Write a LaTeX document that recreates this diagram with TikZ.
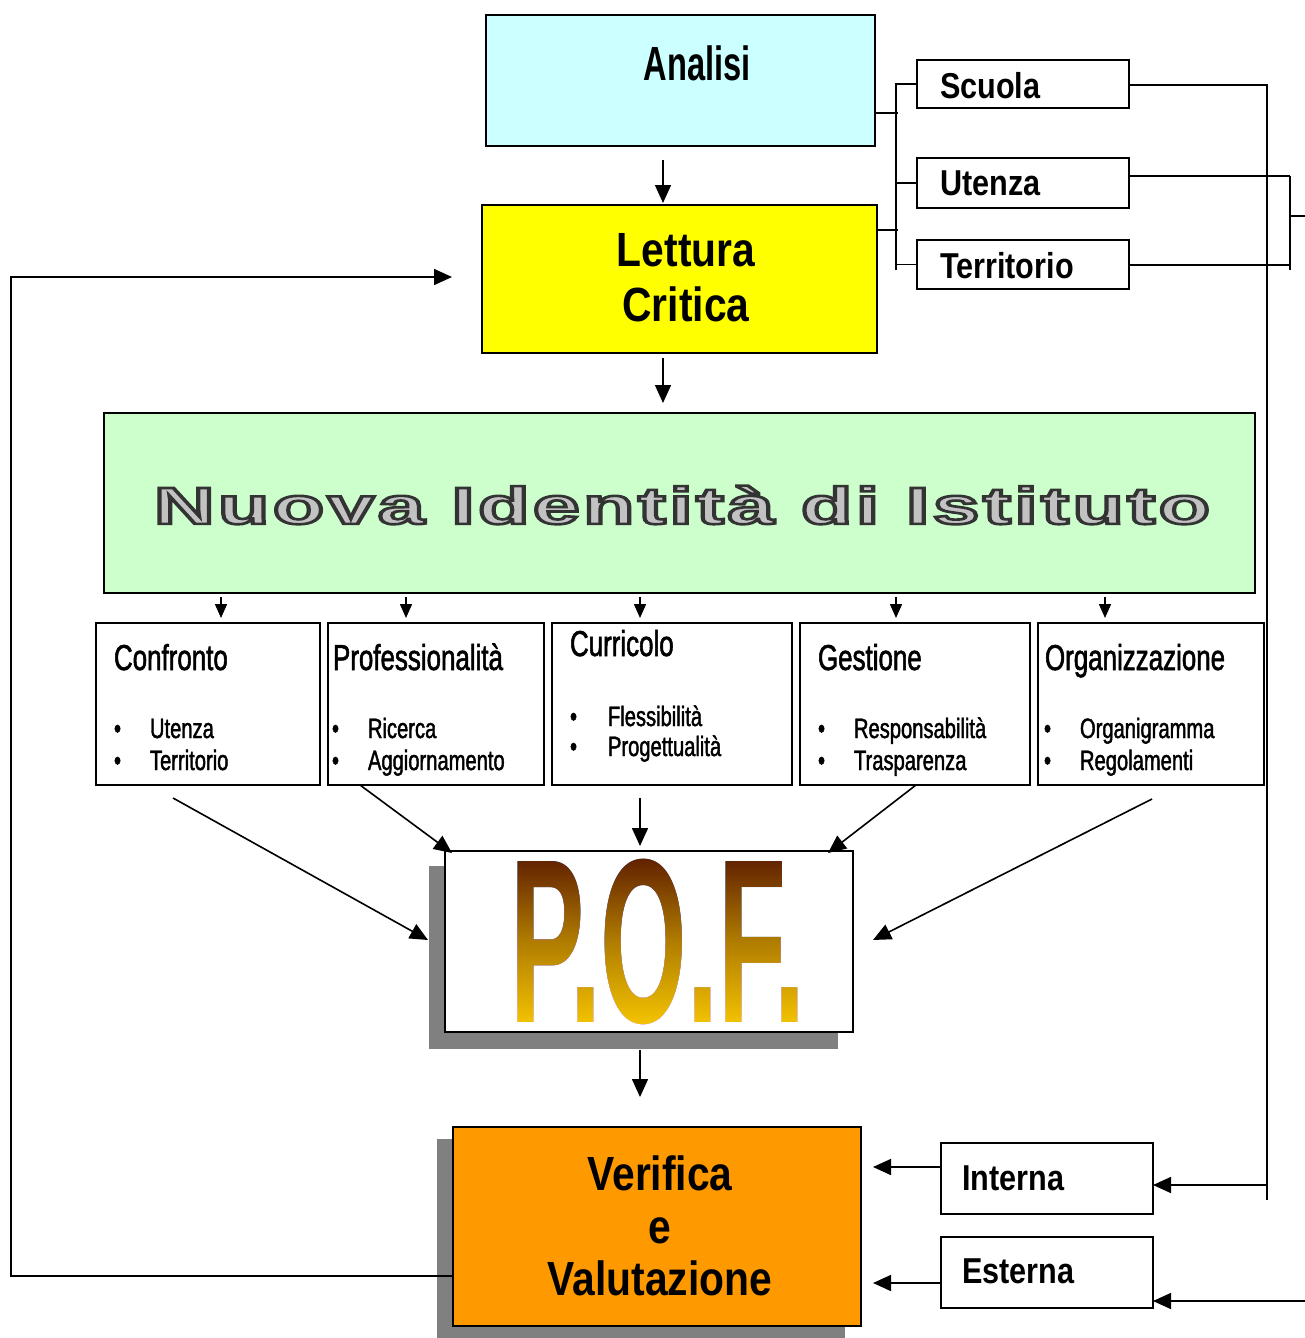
\documentclass[tikz,border=0pt]{standalone}
\usepackage{fontspec}
\setmainfont{Liberation Sans}[FakeStretch=0.85]
\newfontfamily\nar{Liberation Sans}[FakeStretch=0.72, FakeBold=1.5]
\newfontfamily\wf{Liberation Sans}[LetterSpace=4, FakeBold=5]
\usetikzlibrary{arrows.meta,calc}
\definecolor{cyanbox}{HTML}{CCFFFF}
\definecolor{yelbox}{HTML}{FFFF00}
\definecolor{grnbox}{HTML}{CCFFCC}
\definecolor{orgbox}{HTML}{FF9900}
\definecolor{shd}{HTML}{808080}
\definecolor{pofdark}{HTML}{5C1A00}
\definecolor{pofmid}{HTML}{B07C00}
\definecolor{pofgold}{HTML}{F8C800}
\definecolor{nuovagray}{HTML}{BDBDBD}
\tikzset{
  bx/.style={draw=black, line width=1.4pt},
  sbx/.style={draw=black, line width=1pt, fill=white},
  ln/.style={line width=0.8pt},
  arr/.style={ln, -{Triangle[length=9pt,width=8pt]}},
  sarr/.style={ln, -{Triangle[length=7pt,width=6pt]}},
  ttl/.style={anchor=base west, font=\nar\fontsize{18}{18}\selectfont},
  lst/.style={anchor=base west, font=\nar\fontsize{14}{16}\selectfont, align=left},
  lab/.style={anchor=base west, font=\bfseries\fontsize{18}{18}\selectfont},
}
\newcommand{\nuovatext}{\resizebox{528pt}{\height}{\wf\bfseries\fontsize{26}{26}\selectfont Nuova Identità di Istituto}}
\begin{document}
\begin{tikzpicture}[x=0.5pt,y=-0.5pt, every node/.append style={inner sep=0pt, outer sep=0pt}]
\useasboundingbox (0,0) rectangle (1305,1338);

% shadows
\fill[shd] (429,866) rectangle (838,1049);
\fill[shd] (437,1139) rectangle (845,1338);

% main boxes
\node[bx, fill=cyanbox, minimum width=194.5pt, minimum height=65.5pt] (analisi) at (680.5,80.5) {};
\node[bx, fill=yelbox, minimum width=197.5pt, minimum height=74pt] (lettura) at (679.5,279) {};
\node[bx, fill=grnbox, minimum width=575.5pt, minimum height=90pt] (nuova) at (679.5,503) {};
\node[bx, fill=white, minimum width=112pt, minimum height=81pt] (b1) at (208,704) {};
\node[bx, fill=white, minimum width=108pt, minimum height=81pt] (b2) at (436,704) {};
\node[bx, fill=white, minimum width=120pt, minimum height=81pt] (b3) at (672,704) {};
\node[bx, fill=white, minimum width=115pt, minimum height=81pt] (b4) at (915,704) {};
\node[bx, fill=white, minimum width=113pt, minimum height=81pt] (b5) at (1151,704) {};
\node[draw=black, line width=1pt, fill=white, minimum width=204pt, minimum height=90.5pt] (pof) at (649,941.5) {};
\node[bx, fill=orgbox, minimum width=204pt, minimum height=99.5pt] (ver) at (657,1226.5) {};
\node[sbx, minimum width=106pt, minimum height=24pt] (scuola) at (1023,84) {};
\node[sbx, minimum width=106pt, minimum height=25pt] (utenza) at (1023,183) {};
\node[sbx, minimum width=106pt, minimum height=24.5pt] (terr) at (1023,264.5) {};
\node[sbx, minimum width=106pt, minimum height=35.5pt] (interna) at (1047,1178.5) {};
\node[sbx, minimum width=106pt, minimum height=35.5pt] (esterna) at (1047,1272.5) {};

% texts
\node (tanalisi) at (697,63) {\bfseries\fontsize{24}{24}\selectfont\scalebox{0.8}[1]{Analisi}};
\node[align=center, font=\bfseries\fontsize{24}{27.5}\selectfont] (tlettura) at (686,278) {Lettura\\Critica};
\node[align=center, font=\bfseries\fontsize{24}{26.25}\selectfont] (tver) at (660,1226) {Verifica\\e\\Valutazione};
\node[text=nuovagray] (tnuova) at (682,505) {\special{pdf:bcolor [0.76] [0.2]}\nuovatext\special{pdf:ecolor}};
\node (tpof) at (657.5,942) {\resizebox{147.5pt}{\height}{\bfseries\fontsize{117}{117}\selectfont P.O.F.}};
\fill[blend mode=lighten, top color=pofdark, bottom color=pofgold, middle color=pofmid] (500,852) rectangle (815,1030);

\node[lab] (tscuola) at (940,99) {Scuola};
\node[lab] (tutenza) at (940,195) {Utenza};
\node[lab] (tterr) at (940,278) {Territorio};
\node[lab] (tinterna) at (962,1190) {Interna};
\node[lab] (testerna) at (962,1283) {Esterna};

\node[ttl] (t1) at (114,670) {Confronto};
\node[ttl] (t2) at (333,670) {Professionalità};
\node[ttl] (t3) at (570,656) {Curricolo};
\node[ttl] (t4) at (818,670) {Gestione};
\node[ttl] (t5) at (1045,670) {Organizzazione};
\node[lst] (l1) at (114,738) {\begin{tabular}[t]{@{}p{18pt}@{}l@{}}•&Utenza\\•&Territorio\end{tabular}};
\node[lst] (l2) at (332,738) {\begin{tabular}[t]{@{}p{18pt}@{}l@{}}•&Ricerca\\•&Aggiornamento\end{tabular}};
\node[lst, font=\nar\fontsize{14}{15}\selectfont] (l3) at (570,726) {\begin{tabular}[t]{@{}p{19pt}@{}l@{}}•&Flessibilità\\•&Progettualità\end{tabular}};
\node[lst] (l4) at (818,738) {\begin{tabular}[t]{@{}p{18pt}@{}l@{}}•&Responsabilità\\•&Trasparenza\end{tabular}};
\node[lst] (l5) at (1044,738) {\begin{tabular}[t]{@{}p{18pt}@{}l@{}}•&Organigramma\\•&Regolamenti\end{tabular}};

% coordinates for connectors
\coordinate (c1a) at (663,160); \coordinate (c1b) at (663,203);
\coordinate (c2a) at (663,358); \coordinate (c2b) at (663,403);
\foreach \x/\n in {221/1,406/2,640/3,896/4,1105/5}{
  \coordinate (n\n a) at (\x,597); \coordinate (n\n b) at (\x,618);
}
\coordinate (p1a) at (173,798); \coordinate (p1b) at (428,940);
\coordinate (p2a) at (360,785); \coordinate (p2b) at (452,853);
\coordinate (p3a) at (640,798); \coordinate (p3b) at (640,846);
\coordinate (p4a) at (916,785); \coordinate (p4b) at (828,853);
\coordinate (p5a) at (1152,799); \coordinate (p5b) at (873,940);
\coordinate (v1a) at (640,1050); \coordinate (v1b) at (640,1097);
\coordinate (ia) at ($(interna.west)+(0,-11.5)$); \coordinate (ib) at (873,1167);
\coordinate (ea) at ($(esterna.west)+(0,10.5)$); \coordinate (eb) at (873,1283);
\coordinate (rtop) at (1267,85); \coordinate (rbot) at (1267,1200);
\coordinate (rint) at (1268,1185);
\coordinate (uright) at (1290,176); \coordinate (tright) at (1290,265);
\coordinate (ubar) at (1290,270); \coordinate (umid) at (1290,216);
\coordinate (redge) at (1305,216);
\coordinate (eedge) at (1305,1301);
\coordinate (lbtop) at (896,83); \coordinate (lbbot) at (896,270);
\coordinate (loopA) at (11,1276); \coordinate (loopB) at (11,277);
\coordinate (loopC) at (452,277);

% connectors
\draw[arr] (c1a) -- (c1b);
\draw[arr] (c2a) -- (c2b);
\foreach \n in {1,...,5}{ \draw[sarr] (n\n a) -- (n\n b); }
\foreach \n in {1,...,5}{ \draw[arr] (p\n a) -- (p\n b); }
\draw[arr] (v1a) -- (v1b);
\draw[arr] (ia) -- (ib);
\draw[arr] (ea) -- (eb);

% right side lines
\draw[ln] (scuola.east |- rtop) -- (rtop) -- (rbot);
\draw[arr] (rint) -- (interna.east |- rint);
\draw[ln] (utenza.east |- uright) -- (uright);
\draw[ln] (terr.east |- tright) -- (tright);
\draw[ln] (uright) -- (ubar);
\draw[ln] (umid) -- (redge);
\draw[arr] (eedge) -- (esterna.east |- eedge);

% left bracket
\draw[ln] (lbtop) -- (lbbot);
\draw[ln] (lbtop |- scuola.west) -- (scuola.west);
\draw[ln] (lbtop |- utenza.west) -- (utenza.west);
\draw[ln] (lbtop |- terr.west) -- (terr.west);
\draw[ln] (analisi.east |- 0,113) -- (898,113);
\draw[ln] (lettura.east |- 0,230) -- (898,230);

% feedback loop
\draw[arr] (ver.west |- loopA) -- (loopA) -- (loopB) -- (loopC);
\end{tikzpicture}
\end{document}
